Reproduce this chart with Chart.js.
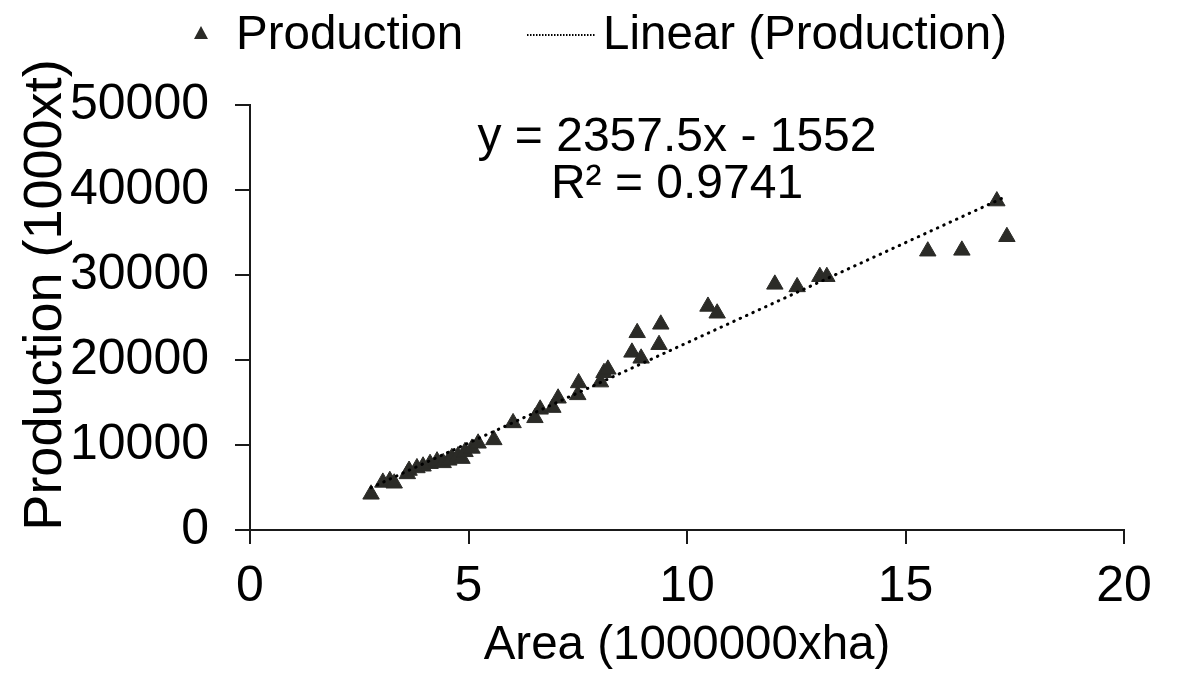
<!DOCTYPE html>
<html lang="en">
<head>
    <meta charset="UTF-8">
    <title>Production vs Area</title>
    <script src="https://cdn.jsdelivr.net/npm/chart.js"></script>
    <style>
        html, body { margin: 0; padding: 0; background: #fff; }
        #wrap { width: 1179px; height: 677px; }
    </style>
</head>
<body>
<div id="wrap"><canvas id="chart"></canvas></div>
<script>
    // values
    const areaValues = [2.77, 3.04, 3.20, 3.30, 3.60, 3.64, 3.82, 3.96, 4.12, 4.28, 4.42, 4.55, 4.62, 4.76, 4.85,
        4.92, 5.08, 5.22, 5.58, 6.02, 6.52, 6.64, 6.93, 7.05, 7.50, 7.52, 8.02, 8.10, 8.19, 8.74,
        8.86, 8.95, 9.36, 9.40, 10.48, 10.69, 12.01, 12.52, 13.04, 13.20, 15.51, 16.29, 17.09, 17.32];
    const productionValues = [4200, 5600, 5800, 5500, 6600, 7000, 7300, 7500, 7800, 8100, 7900, 8200, 8500, 8700, 8400,
        9200, 9600, 10200, 10600, 12600, 13200, 14200, 14400, 15500, 15900, 17300, 17400, 18500, 18900, 20900,
        23200, 20200, 21800, 24200, 26300, 25500, 28900, 28600, 29800, 29800, 32800, 32900, 38700, 34500];

    // trendline as printed on the chart
    const slope = 2357.5;
    const intercept = -1552;
    const equationText = 'y = 2357.5x - 1552';
    const r2Text = 'R² = 0.9741';

    const xTicks = [0, 5, 10, 15, 20];
    const yTicks = [0, 10000, 20000, 30000, 40000, 50000];
    const xTitle = 'Area (1000000xha)';
    const yTitle = 'Production (1000xt)';

    const FONT = '"Liberation Sans", Arial, sans-serif';
    const markerColor = '#2b2b27';

    const points = areaValues.map((x, i) => ({ x: x, y: productionValues[i] }));
    const xMin = Math.min(...areaValues);
    const xMax = Math.max(...areaValues);
    const trend = [
        { x: xMin, y: slope * xMin + intercept },
        { x: xMax, y: slope * xMax + intercept }
    ];

    // legend, equation label and y title, Excel style
    const extras = {
        id: 'extras',
        afterDraw(chart) {
            const ctx = chart.ctx;
            ctx.save();
            // legend triangle
            ctx.fillStyle = markerColor;
            ctx.beginPath();
            ctx.moveTo(201, 26);
            ctx.lineTo(208, 39);
            ctx.lineTo(194, 39);
            ctx.closePath();
            ctx.fill();
            ctx.fillStyle = '#000';
            ctx.font = '47.5px ' + FONT;
            ctx.textBaseline = 'alphabetic';
            ctx.textAlign = 'left';
            ctx.fillText('Production', 236, 49);
            // legend dotted line
            ctx.strokeStyle = '#000';
            ctx.lineWidth = 2;
            ctx.setLineDash([1.5, 1.5]);
            ctx.beginPath();
            ctx.moveTo(527, 35);
            ctx.lineTo(596, 35);
            ctx.stroke();
            ctx.setLineDash([]);
            ctx.fillText('Linear (Production)', 603, 49);
            // equation
            ctx.font = '48px ' + FONT;
            ctx.textAlign = 'center';
            ctx.fillText(equationText, 677, 151);
            ctx.fillText(r2Text, 677, 198);
            // y axis title
            ctx.font = '54px ' + FONT;
            ctx.translate(61, 295);
            ctx.rotate(-Math.PI / 2);
            ctx.fillText(yTitle, 0, 0);
            ctx.restore();
        }
    };

    new Chart(document.getElementById('chart'), {
        type: 'scatter',
        data: {
            datasets: [
                {
                    label: 'Production',
                    data: points,
                    pointStyle: 'triangle',
                    pointRadius: 9.5,
                    pointBackgroundColor: markerColor,
                    pointBorderColor: markerColor,
                    pointBorderWidth: 1,
                    order: 1
                },
                {
                    label: 'Linear (Production)',
                    type: 'line',
                    data: trend,
                    borderColor: '#000',
                    borderWidth: 3,
                    borderDash: [0.5, 6.5],
                    borderCapStyle: 'round',
                    pointRadius: 0,
                    fill: false,
                    order: 0
                }
            ]
        },
        options: {
            responsive: true,
            maintainAspectRatio: false,
            animation: false,
            events: [],
            layout: { padding: { top: 105, right: 55, left: 0, bottom: 0 } },
            plugins: {
                legend: { display: false },
                tooltip: { enabled: false }
            },
            scales: {
                x: {
                    type: 'linear',
                    min: 0,
                    max: 20,
                    afterBuildTicks: (s) => { s.ticks = xTicks.map(v => ({ value: v })); },
                    afterFit: (s) => { s.height = 147; },
                    grid: { drawOnChartArea: false, drawTicks: true, tickLength: 14, color: '#1a1a1a', lineWidth: 2 },
                    border: { display: true, color: '#1a1a1a', width: 2 },
                    ticks: { color: '#000', font: { family: FONT, size: 50 }, padding: 13 },
                    title: { display: true, text: xTitle, color: '#000', font: { family: FONT, size: 47.5 }, padding: { top: 0, bottom: 3 } }
                },
                y: {
                    type: 'linear',
                    min: 0,
                    max: 50000,
                    afterBuildTicks: (s) => { s.ticks = yTicks.map(v => ({ value: v })); },
                    afterFit: (s) => { s.width = 250; },
                    grid: { drawOnChartArea: false, drawTicks: true, tickLength: 15, color: '#1a1a1a', lineWidth: 2 },
                    border: { display: true, color: '#1a1a1a', width: 2 },
                    ticks: { color: '#000', font: { family: FONT, size: 50 }, padding: 26, callback: (v) => String(v) }
                }
            }
        },
        plugins: [extras]
    });
</script>
</body>
</html>
